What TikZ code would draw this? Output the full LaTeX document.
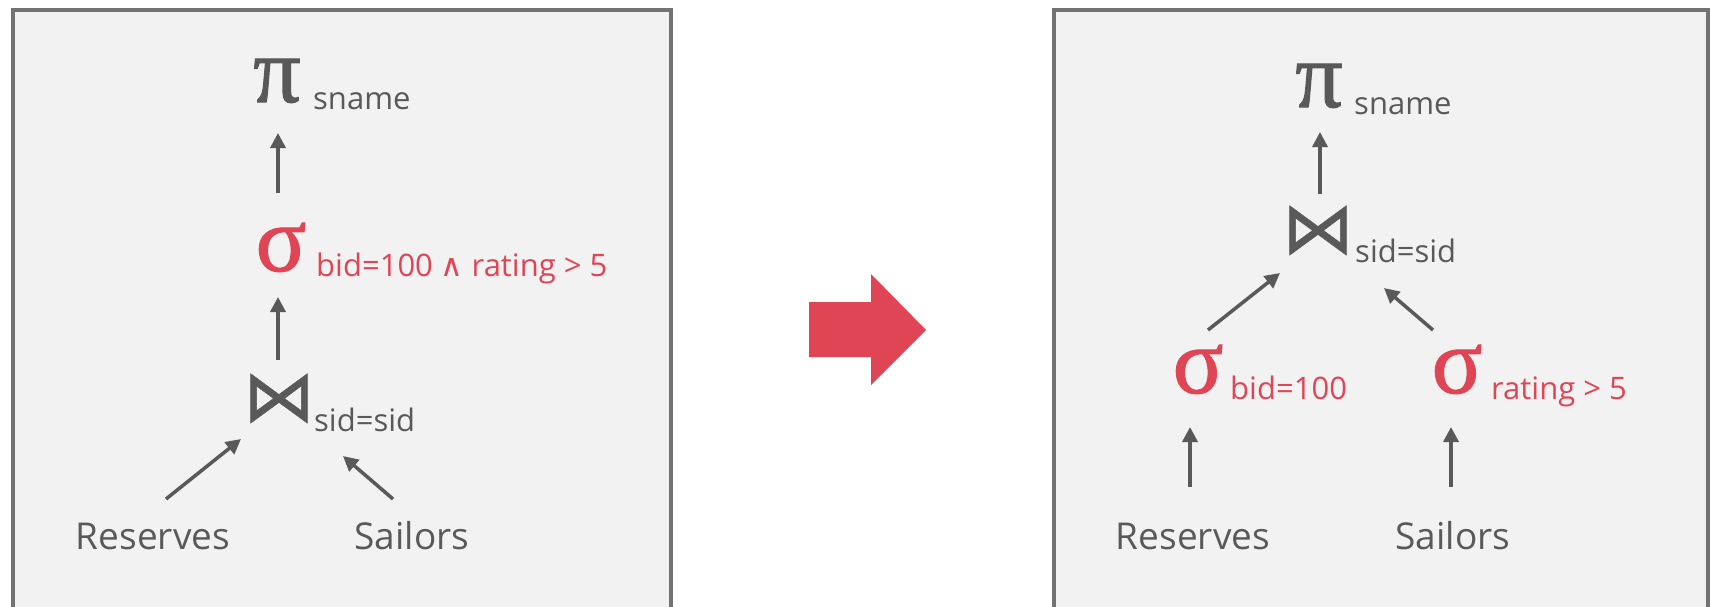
\documentclass[tikz,border=0pt]{standalone}
\usepackage{fontspec}
\setmainfont{Open Sans}
\newfontfamily\grecofont[FakeBold=1.2]{Liberation Serif}
\newfontfamily\simbolifont{DejaVu Sans}
\newfontfamily\giunzionefont[FakeBold=0.7]{DejaVu Sans}
\usetikzlibrary{arrows.meta}

\definecolor{grigio}{HTML}{595959}
\definecolor{rosso}{HTML}{E04555}
\definecolor{bordo}{HTML}{737373}
\definecolor{sfondo}{HTML}{F2F2F2}

\begin{document}
\begin{tikzpicture}[
    x=1pt, y=-1pt,
    every node/.style={inner sep=0pt, text=grigio, anchor=base},
    % Stile per i due riquadri
    box/.style={draw=bordo, fill=sfondo, line width=4.5pt},
    % Stile per le relazioni (foglie)
    rel/.style={font=\fontsize{37}{40}\selectfont},
    % Stile per gli operatori greci
    op/.style={font=\grecofont\fontsize{94}{94}\selectfont},
    % Stile per il join
    giunzione/.style={font=\giunzionefont\fontsize{72}{72}\selectfont},
    % Stile per i pedici degli operatori
    sub/.style={font=\fontsize{31}{34}\selectfont, anchor=base west},
    sel/.style={text=rosso},
    freccia/.style={draw=grigio, line width=3.5pt, -{Triangle[length=15pt,width=15pt]}}
]
\useasboundingbox (0,0) rectangle (1711,606);
\clip (0,0) rectangle (1711,606);

% --- RIQUADRI ---
\draw[box] (13,10) rectangle (671,650);
\draw[box] (1054,10) rectangle (1708,650);

% --- PIANO INIZIALE (selezione sopra il join) ---
\node[op] (pi) at (277,102) {π};
\node[sub] (pisub) at (313,109) {sname};
\node[op, sel] (sigma) at (281,271) {σ};
\node[sub, sel] (sigmasub) at (316,276) {bid=100 {\simbolifont ∧} rating > 5};
\node[giunzione] (join) at (279,421) {⋈};
\node[sub] (joinsub) at (314,431) {sid=sid};
\node[rel] (res) at (153,549) {Reserves};
\node[rel] (sai) at (412,549) {Sailors};

\draw[freccia] ([shift={(-3,-78)}]sigma.base) -- ([shift={(1,31)}]pi.base);
\draw[freccia] ([shift={(-1,-61)}]join.base) -- ([shift={(-3,26)}]sigma.base);
\draw[freccia] ([shift={(13,-50)}]res.base) -- ([shift={(-38,18)}]join.base);
\draw[freccia] ([shift={(-19,-50)}]sai.base) -- ([shift={(64,35)}]join.base);

% --- FRECCIA DI TRASFORMAZIONE ---
\fill[rosso] (809,302) -- (871,302) -- (871,274) -- (926,330)
    -- (871,385) -- (871,357) -- (809,357) -- cycle;

% --- PIANO OTTIMIZZATO (selezioni spinte in basso) ---
\node[op] (pidue) at (1319,107) {π};
\node[sub] (pisubdue) at (1354,114) {sname};
\node[giunzione] (joindue) at (1318,253) {⋈};
\node[sub] (joinsubdue) at (1355,262) {sid=sid};
% 1. Selezione su Reserves
\node[op, sel] (sigbid) at (1198,393) {σ};
\node[sub, sel] (sigbidsub) at (1230,399) {bid=100};
% 2. Selezione su Sailors
\node[op, sel] (sigrat) at (1457,393) {σ};
\node[sub, sel] (sigratsub) at (1491,399) {rating > 5};
\node[rel] (resdue) at (1193,549) {Reserves};
\node[rel] (saidue) at (1453,549) {Sailors};

\draw[freccia] ([shift={(2,-59)}]joindue.base) -- ([shift={(1,25)}]pidue.base);
\draw[freccia] ([shift={(10,-63)}]sigbid.base) -- ([shift={(-38,20)}]joindue.base);
\draw[freccia] ([shift={(-24,-63)}]sigrat.base) -- ([shift={(66,35)}]joindue.base);
\draw[freccia] ([shift={(-3,-62)}]resdue.base) -- ([shift={(-8,34)}]sigbid.base);
\draw[freccia] ([shift={(-2,-62)}]saidue.base) -- ([shift={(-6,34)}]sigrat.base);

\end{tikzpicture}
\end{document}
